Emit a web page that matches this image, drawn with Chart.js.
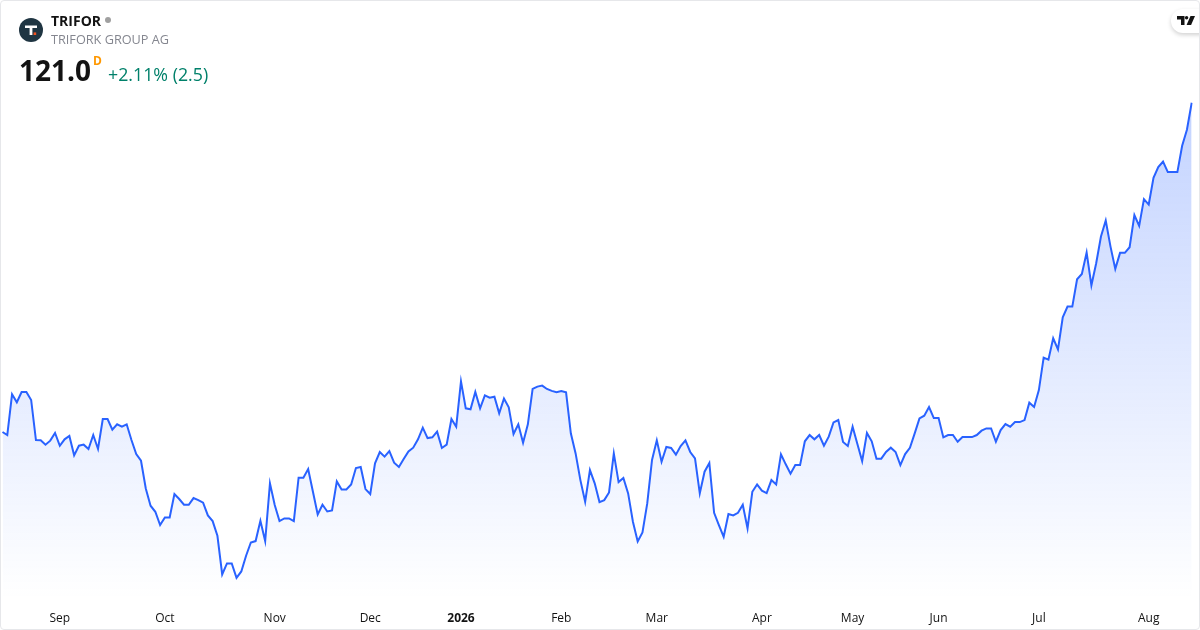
<!DOCTYPE html>
<html>
<head>
<meta charset="utf-8">
<script src="https://cdn.jsdelivr.net/npm/chart.js@4"></script>
<style>
html, body { margin: 0; padding: 0; background: #fff; }
body { width: 1200px; height: 630px; overflow: hidden; position: relative; font-family: "Open Sans", sans-serif; }
#frame { position: absolute; left: 0; top: 0; width: 1198px; height: 628px; border: 1px solid #e6e7ea; border-radius: 4px; pointer-events: none; z-index: 3; }
#wrap { position: absolute; left: 0; top: 0; width: 1200px; height: 630px; }
.t { position: absolute; white-space: nowrap; line-height: 1; }
#logo { position: absolute; left: 19px; top: 18px; width: 24px; height: 24px; }
#badge { position: absolute; left: 1171px; top: 9px; width: 36px; height: 24px; background: #fff; border-radius: 12px 0 0 12px; box-shadow: 0 2px 4px rgba(0,0,0,.18); z-index: 2; }
#clip { position: absolute; left: 1160px; top: 0; width: 39px; height: 50px; overflow: hidden; z-index: 2; }
</style>
</head>
<body>
<div id="wrap"><canvas id="chart" width="1200" height="630"></canvas></div>
<svg id="logo" viewBox="0 0 24 24">
	<circle cx="12" cy="12" r="12" fill="#1f3542"/>
	<path d="M6 7.5h12v2.6h-4.6v7h-2.8v-7H6z" fill="#fff"/>
	<rect x="14.6" y="14.4" width="2.6" height="2.6" fill="#f4511e"/>
</svg>
<div class="t" style="left:51px;top:14px;font-size:14px;font-weight:700;color:#131313">TRIFOR</div>
<div class="t" style="left:105px;top:17px;width:6px;height:6px;border-radius:50%;background:#a0a0a0"></div>
<div class="t" style="left:51px;top:33px;font-size:12.7px;color:#84868f">TRIFORK GROUP AG</div>
<div class="t" style="left:19px;top:56px;font-size:28px;font-weight:700;color:#131313">121.0</div>
<div class="t" style="left:93px;top:55px;font-size:12px;font-weight:700;color:#ff9800">D</div>
<div class="t" style="left:108px;top:66px;font-size:17.8px;color:#00806a">+2.11% (2.5)</div>
<div id="clip">
	<div id="badge" style="left:11px"></div>
	<svg style="position:absolute;left:17px;top:16px;z-index:3" width="18" height="10" viewBox="0 0 18 10">
		<path d="M0 0h7.5v9H4V3.4H0z" fill="#131313"/>
		<circle cx="9.6" cy="1.7" r="1.7" fill="#131313"/>
		<path d="M13.5 0H18l-3.9 9H9.6z" fill="#131313"/>
	</svg>
</div>
<div id="frame"></div>
<script>
// daily closes
var closes = [
	90.54, 90.26, 94.03, 93.29, 94.24, 94.24, 93.50, 89.80, 89.77, 89.37,
	89.74, 90.45, 89.27, 89.86, 90.17, 88.38, 89.27, 89.37, 88.97, 90.26,
	88.97, 91.74, 91.74, 90.76, 91.25, 91.03, 91.25, 89.80, 88.50, 87.88,
	85.32, 83.72, 83.16, 81.93, 82.64, 82.64, 84.80, 84.34, 83.81, 83.81,
	84.43, 84.24, 84.00, 82.82, 82.30, 80.94, 77.36, 78.38, 78.38, 77.05,
	77.64, 79.09, 80.32, 80.45, 82.33, 80.45, 85.79, 83.78, 82.30, 82.55,
	82.55, 82.30, 86.31, 86.31, 87.11, 85.01, 82.92, 83.81, 83.19, 83.29,
	85.97, 85.23, 85.23, 85.69, 87.21, 87.30, 85.26, 84.80, 87.64, 88.69,
	88.26, 88.78, 87.70, 87.30, 88.04, 88.75, 89.09, 89.86, 90.94, 89.98,
	90.05, 90.57, 89.06, 89.37, 91.74, 91.03, 95.23, 92.73, 92.64, 94.24,
	92.73, 93.93, 93.72, 93.81, 92.27, 93.63, 92.82, 90.35, 91.25, 89.55,
	91.25, 94.52, 94.74, 94.83, 94.52, 94.34, 94.21, 94.34, 94.21, 90.42,
	88.56, 86.09, 84.09, 87.02, 85.79, 84.06, 84.24, 84.95, 88.56, 85.91,
	86.28, 84.86, 82.24, 80.42, 81.25, 83.93, 87.95, 89.77, 87.79, 89.15,
	89.06, 88.44, 89.24, 89.77, 88.69, 88.10, 84.86, 86.87, 87.67, 83.07,
	81.93, 80.85, 82.95, 82.82, 83.07, 83.81, 81.62, 85.01, 85.69, 85.11,
	84.89, 86.09, 85.69, 88.47, 87.55, 86.68, 87.48, 87.48, 89.68, 90.26,
	89.86, 90.26, 89.27, 90.11, 91.43, 91.65, 89.61, 89.24, 91.03, 89.43,
	87.85, 90.45, 89.68, 88.07, 88.07, 88.69, 89.09, 88.69, 87.48, 88.50,
	89.08, 90.41, 91.80, 92.05, 92.85, 91.83, 91.83, 90.04, 90.26, 90.26,
	89.64, 90.07, 90.07, 90.07, 90.26, 90.66, 90.87, 90.87, 89.64, 90.72,
	91.27, 91.03, 91.46, 91.46, 91.64, 93.25, 92.85, 94.42, 97.42, 97.23,
	99.21, 98.19, 101.15, 102.14, 102.14, 104.67, 105.16, 107.14, 104.11, 106.15,
	108.62, 110.10, 107.69, 105.63, 107.11, 107.11, 107.63, 110.60, 109.61, 112.08,
	111.58, 114.05, 115.04, 115.56, 114.58, 114.58, 114.58, 117.01, 118.50, 121.00
];
var tickNames = ['Sep', 'Oct', 'Nov', 'Dec', '2026', 'Feb', 'Mar', 'Apr', 'May', 'Jun', 'Jul', 'Aug'];
var tickDays = [12, 34, 57, 77, 96, 117, 137, 159, 178, 196, 217, 240];

var labels = closes.map(function(v, i){
	var k = tickDays.indexOf(i);
	return k >= 0 ? tickNames[k] : '';
});

var myLineChart = new Chart(document.getElementById('chart'), {
	type: 'line',
	data: {
		labels: labels,
		datasets: [{
			data: closes,
			borderColor: '#2962ff',
			borderWidth: 2,
			borderJoinStyle: 'miter',
			pointRadius: 0,
			tension: 0,
			fill: 'start',
			backgroundColor: function(ctx){
				var chart = ctx.chart;
				if(!chart.chartArea) return 'transparent';
				var y = chart.scales.y;
				var g = chart.ctx.createLinearGradient(0, y.getPixelForValue(121), 0, chart.chartArea.bottom);
				g.addColorStop(0, 'rgba(41,98,255,0.28)');
				g.addColorStop(1, 'rgba(41,98,255,0)');
				return g;
			}
		}]
	},
	options: {
		responsive: false,
		animation: false,
		devicePixelRatio: 1,
		layout: { padding: { left: 2.5, right: 8.3, top: 0, bottom: 0 } },
		plugins: { legend: { display: false }, tooltip: { enabled: false } },
		scales: {
			x: {
				type: 'category',
				offset: false,
				grid: { display: false },
				border: { display: false },
				afterFit: function(scale){
					scale.height = 30;
					scale.paddingLeft = 0;
					scale.paddingRight = 0;
				},
				ticks: {
					autoSkip: false,
					maxRotation: 0,
					minRotation: 0,
					padding: 3,
					color: '#131313',
					font: function(ctx){
						var bold = ctx.tick && ctx.tick.label === '2026';
						return { family: '"Open Sans", sans-serif', size: 12, weight: bold ? '700' : '400' };
					}
				}
			},
			y: {
				display: false,
				min: 75,
				max: 130.5
			}
		}
	}
});
</script>
</body>
</html>
